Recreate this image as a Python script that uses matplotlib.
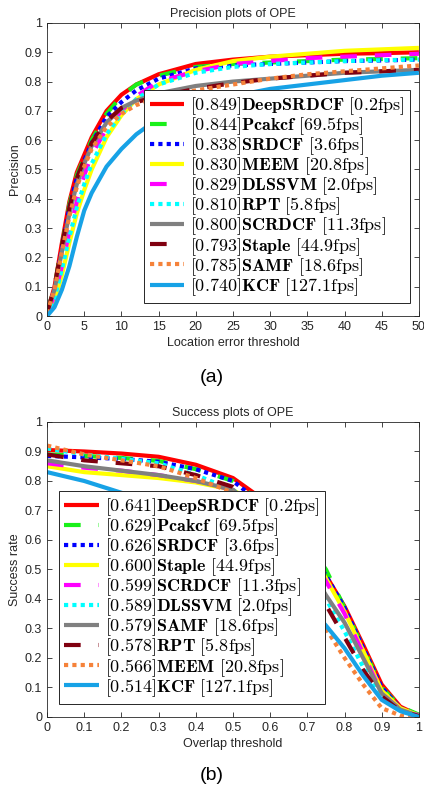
import numpy as np
import matplotlib
matplotlib.use("Agg")
import matplotlib.pyplot as plt

plt.rcParams['font.family'] = ['Liberation Sans', 'DejaVu Sans']
plt.rcParams['mathtext.fontset'] = 'cm'

# ---- precision plot data ----
prec_thr = [0, 1, 2, 3, 4, 5, 6, 8, 10, 12, 15, 20, 25, 30, 35, 40, 45, 50]
prec_names = ['DeepSRDCF', 'Pcakcf', 'SRDCF', 'MEEM', 'DLSSVM',
              'RPT', 'SCRDCF', 'Staple', 'SAMF', 'KCF']
prec_scores = ['0.849', '0.844', '0.838', '0.830', '0.829',
               '0.810', '0.800', '0.793', '0.785', '0.740']
prec_fps = ['0.2', '69.5', '3.6', '20.8', '2.0', '5.8', '11.3', '44.9', '18.6', '127.1']
prec_vals = [
    [0.01, 0.10, 0.25, 0.39, 0.49, 0.55, 0.61, 0.70, 0.755, 0.79, 0.825, 0.86, 0.875, 0.885, 0.89, 0.895, 0.897, 0.90],
    [0.01, 0.10, 0.24, 0.38, 0.48, 0.54, 0.60, 0.69, 0.75, 0.79, 0.82, 0.85, 0.86, 0.865, 0.87, 0.875, 0.877, 0.88],
    [0.01, 0.09, 0.23, 0.37, 0.47, 0.53, 0.59, 0.68, 0.73, 0.77, 0.81, 0.845, 0.855, 0.86, 0.865, 0.87, 0.872, 0.875],
    [0.005, 0.05, 0.14, 0.25, 0.35, 0.43, 0.50, 0.61, 0.685, 0.74, 0.79, 0.84, 0.87, 0.885, 0.895, 0.905, 0.91, 0.915],
    [0.01, 0.07, 0.17, 0.29, 0.39, 0.48, 0.55, 0.64, 0.70, 0.75, 0.80, 0.835, 0.86, 0.87, 0.88, 0.885, 0.89, 0.895],
    [0.005, 0.06, 0.16, 0.27, 0.37, 0.45, 0.52, 0.62, 0.69, 0.74, 0.79, 0.83, 0.85, 0.86, 0.865, 0.87, 0.873, 0.875],
    [0.01, 0.09, 0.22, 0.35, 0.45, 0.52, 0.58, 0.66, 0.71, 0.735, 0.76, 0.785, 0.80, 0.81, 0.82, 0.83, 0.835, 0.84],
    [0.01, 0.10, 0.24, 0.37, 0.47, 0.535, 0.59, 0.665, 0.71, 0.73, 0.75, 0.775, 0.795, 0.81, 0.82, 0.83, 0.835, 0.84],
    [0.01, 0.09, 0.22, 0.34, 0.44, 0.51, 0.57, 0.645, 0.69, 0.72, 0.745, 0.77, 0.79, 0.81, 0.825, 0.835, 0.845, 0.855],
    [0.0, 0.03, 0.09, 0.17, 0.27, 0.36, 0.42, 0.51, 0.57, 0.62, 0.675, 0.72, 0.75, 0.775, 0.79, 0.805, 0.82, 0.83],
]

# ---- success plot data ----
succ_thr = [0, 0.1, 0.2, 0.3, 0.4, 0.5, 0.6, 0.7, 0.75, 0.8, 0.85, 0.9, 0.95, 1.0]
succ_names = ['DeepSRDCF', 'Pcakcf', 'SRDCF', 'Staple', 'SCRDCF',
              'DLSSVM', 'SAMF', 'RPT', 'MEEM', 'KCF']
succ_scores = ['0.641', '0.629', '0.626', '0.600', '0.599',
               '0.589', '0.579', '0.578', '0.566', '0.514']
succ_fps = ['0.2', '69.5', '3.6', '44.9', '11.3', '2.0', '18.6', '5.8', '20.8', '127.1']
succ_vals = [
    [0.905, 0.90, 0.893, 0.882, 0.855, 0.81, 0.72, 0.59, 0.48, 0.375, 0.245, 0.11, 0.035, 0.005],
    [0.89, 0.885, 0.878, 0.868, 0.84, 0.80, 0.71, 0.59, 0.50, 0.37, 0.235, 0.10, 0.035, 0.008],
    [0.885, 0.88, 0.875, 0.865, 0.84, 0.80, 0.70, 0.58, 0.48, 0.37, 0.235, 0.10, 0.03, 0.005],
    [0.85, 0.83, 0.82, 0.81, 0.795, 0.77, 0.69, 0.57, 0.47, 0.357, 0.225, 0.09, 0.03, 0.005],
    [0.86, 0.845, 0.835, 0.82, 0.80, 0.77, 0.68, 0.56, 0.46, 0.35, 0.215, 0.08, 0.025, 0.005],
    [0.91, 0.89, 0.875, 0.86, 0.82, 0.77, 0.66, 0.52, 0.40, 0.29, 0.17, 0.065, 0.02, 0.003],
    [0.87, 0.85, 0.835, 0.82, 0.80, 0.77, 0.66, 0.52, 0.413, 0.32, 0.20, 0.08, 0.025, 0.004],
    [0.89, 0.87, 0.86, 0.85, 0.82, 0.78, 0.67, 0.50, 0.38, 0.27, 0.16, 0.07, 0.02, 0.003],
    [0.92, 0.89, 0.87, 0.85, 0.81, 0.76, 0.63, 0.41, 0.30, 0.20, 0.11, 0.03, 0.005, 0.0],
    [0.83, 0.80, 0.76, 0.72, 0.67, 0.60, 0.50, 0.38, 0.31, 0.233, 0.14, 0.058, 0.02, 0.0],
]

# line style per rank (same in both plots)
colors = ['#ff0000', '#19f019', '#0000ff', '#ffff00', '#ff00ff',
          '#00ffff', '#808080', '#800010', '#f5823a', '#17a2e6']
dash = (0, (4, 4.3))
dot = (0, (1, 1))
styles = ['-', dash, dot, '-', dash, dot, '-', dash, dot, '-']

INK = '#262626'


def style_axes(ax):
    ax.tick_params(direction='in', top=True, right=True, length=3.5,
                   width=0.6, labelsize=9, colors=INK)
    for s in ax.spines.values():
        s.set_color(INK)
        s.set_linewidth(0.6)


def draw(ax, thr, vals, names, scores, fps):
    for i in range(len(names)):
        lab = r'$[%s]\mathbf{%s}\ [%s\mathrm{fps}]$' % (scores[i], names[i], fps[i])
        ax.plot(thr, vals[i], color=colors[i], linestyle=styles[i], lw=3,
                dash_capstyle='butt', solid_capstyle='butt', label=lab)


def add_legend(ax, loc, anchor):
    leg = ax.legend(loc=loc, bbox_to_anchor=anchor, fontsize=13,
                    handlelength=1.9, handletextpad=0.33, labelspacing=-0.09,
                    borderpad=0.3, borderaxespad=0, fancybox=False, framealpha=1,
                    edgecolor=INK)
    leg.get_frame().set_linewidth(0.7)
    return leg


fig = plt.figure(figsize=(4.24, 7.92), dpi=100)

# (a) precision
ax1 = fig.add_axes([0.111, 0.601, 0.877, 0.370])
draw(ax1, prec_thr, prec_vals, prec_names, prec_scores, prec_fps)
ax1.set_xlim(0, 50)
ax1.set_ylim(0, 1)
ax1.set_xticks(np.arange(0, 51, 5))
ax1.set_yticks(np.arange(0, 1.01, 0.1))
ax1.set_yticklabels(['0', '0.1', '0.2', '0.3', '0.4', '0.5', '0.6', '0.7', '0.8', '0.9', '1'])
ax1.set_title('Precision plots of OPE', fontsize=9, color=INK, pad=4)
ax1.set_xlabel('Location error threshold', fontsize=9, color=INK, labelpad=3)
ax1.set_ylabel('Precision', fontsize=9, color=INK, labelpad=3)
style_axes(ax1)
add_legend(ax1, 'lower right', (0.976, 0.044))
fig.text(0.5, 1 - 377 / 792, '(a)', ha='center', va='center', fontsize=14)

# (b) success
ax2 = fig.add_axes([0.111, 0.0947, 0.877, 0.3725])
draw(ax2, succ_thr, succ_vals, succ_names, succ_scores, succ_fps)
ax2.set_xlim(0, 1)
ax2.set_ylim(0, 1)
ax2.set_xticks(np.arange(0, 1.01, 0.1))
ax2.set_xticklabels(['0', '0.1', '0.2', '0.3', '0.4', '0.5', '0.6', '0.7', '0.8', '0.9', '1'])
ax2.set_yticks(np.arange(0, 1.01, 0.1))
ax2.set_yticklabels(['0', '0.1', '0.2', '0.3', '0.4', '0.5', '0.6', '0.7', '0.8', '0.9', '1'])
ax2.set_title('Success plots of OPE', fontsize=9, color=INK, pad=4)
ax2.set_xlabel('Overlap threshold', fontsize=9, color=INK, labelpad=3)
ax2.set_ylabel('Success rate', fontsize=9, color=INK, labelpad=3)
style_axes(ax2)
add_legend(ax2, 'lower left', (0.032, 0.044))
fig.text(0.5, 1 - 775 / 792, '(b)', ha='center', va='center', fontsize=14)

fig.savefig('out.png', dpi=100)
